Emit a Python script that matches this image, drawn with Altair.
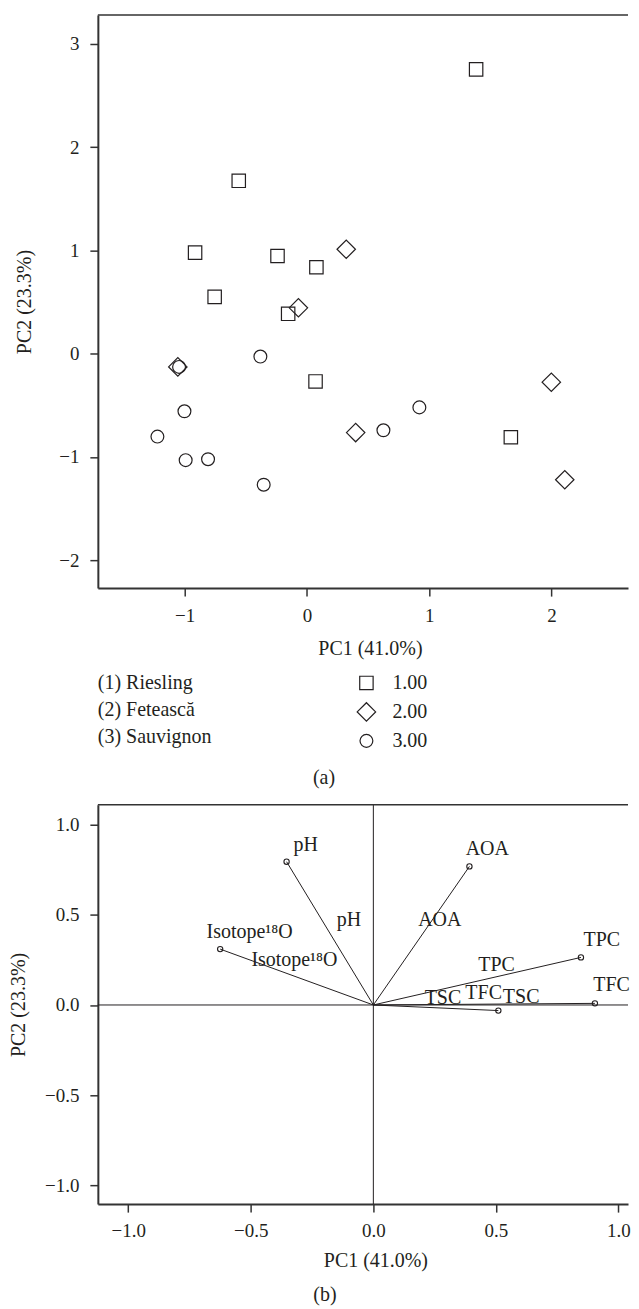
import altair as alt
import pandas as pd

FONT = "Liberation Serif"
INK = "#231f20"
AXC = "#333333"
FS = 20

# ---------- Panel (a): PCA scores ----------
sq_x = [1.383, -0.558, -0.915, -0.241, 0.077, -0.755, -0.154, 0.070, 1.667]
sq_y = [2.752, 1.673, 0.977, 0.945, 0.836, 0.549, 0.385, -0.270, -0.810]
di_x = [0.321, -0.070, -1.056, 0.398, 1.998, 2.108]
di_y = [1.010, 0.443, -0.129, -0.765, -0.277, -1.222]
ci_x = [-1.046, -0.381, -1.002, -1.223, -0.992, -0.809, -0.354, 0.919, 0.625]
ci_y = [-0.129, -0.029, -0.559, -0.804, -1.032, -1.023, -1.270, -0.521, -0.743]
group_codes = ["1.00", "2.00", "3.00"]
group_names = ["(1) Riesling", "(2) Fetească", "(3) Sauvignon"]
a_xticks = [-1, 0, 1, 2]
a_yticks = [-2, -1, 0, 1, 2, 3]

# ---------- Panel (b): loadings ----------
var_names = ["pH", "AOA", "Isotope¹⁸O", "TPC", "TFC", "TSC"]
load_x = [-0.354, 0.392, -0.625, 0.847, 0.904, 0.510]
load_y = [0.795, 0.769, 0.310, 0.264, 0.009, -0.031]
end_lab_x = [-0.276, 0.465, -0.505, 0.932, 0.972, 0.603]
end_lab_y = [0.852, 0.834, 0.373, 0.327, 0.077, 0.013]
mid_lab_x = [-0.100, 0.271, -0.322, 0.503, 0.450, 0.284]
mid_lab_y = [0.437, 0.437, 0.216, 0.188, 0.035, 0.004]
b_ticks = [-1.0, -0.5, 0.0, 0.5, 1.0]

W = 531
HA = 574
HB = 400

scores = pd.DataFrame({
    "PC1": sq_x + di_x + ci_x,
    "PC2": sq_y + di_y + ci_y,
    "grp": [group_codes[0]] * len(sq_x) + [group_codes[1]] * len(di_x) + [group_codes[2]] * len(ci_x),
})

xa_scale = alt.Scale(domain=[-1.71, 2.625], nice=False, zero=False)
ya_scale = alt.Scale(domain=[-2.271, 3.278], nice=False, zero=False)
xa_axis = alt.Axis(values=a_xticks, title="PC1 (41.0%)", titleX=272.5, titleY=60,
                   titleBaseline="middle", labelPadding=10, format="d")
ya_axis = alt.Axis(values=a_yticks, title="PC2 (23.3%)", titleX=-73, titleY=HA / 2,
                   titleBaseline="middle", titleAlign="center", format="d")

leg = alt.Legend(orient="none", legendX=259, legendY=659, title=None,
                 labelFont=FONT, labelFontSize=FS, labelColor=INK, labelOffset=16,
                 rowPadding=7, padding=0, symbolStrokeColor=INK, symbolStrokeWidth=1.2)

pts = alt.Chart(scores).mark_point(filled=False, strokeWidth=1.2, color=INK, opacity=1).encode(
    x=alt.X("PC1:Q", scale=xa_scale, axis=xa_axis),
    y=alt.Y("PC2:Q", scale=ya_scale, axis=ya_axis),
    shape=alt.Shape("grp:O", scale=alt.Scale(type="ordinal", domain=group_codes,
                                             range=["square", "diamond", "circle"]), legend=leg),
    size=alt.Size("grp:O", scale=alt.Scale(type="ordinal", domain=group_codes,
                                           range=[180, 340, 165]), legend=leg),
)

top_a = alt.Chart(pd.DataFrame({"v": [0]})).mark_rule(color=AXC, strokeWidth=1.5).encode(y=alt.value(0))

name_layers = []
for i, n in enumerate(group_names):
    name_layers.append(
        alt.Chart(pd.DataFrame({"t": [n]})).mark_text(
            align="left", baseline="middle", font=FONT, fontSize=FS, color=INK
        ).encode(x=alt.value(0), y=alt.value(669 + 27 * i), text="t:N")
    )

lab_a = alt.Chart(pd.DataFrame({"t": ["(a)"]})).mark_text(
    align="center", baseline="middle", font=FONT, fontSize=FS, color=INK
).encode(x=alt.value(226.5), y=alt.value(764), text="t:N")

panel_a = alt.layer(pts, top_a, *name_layers, lab_a).properties(width=W, height=HA)

# ---------- Panel (b) ----------
load = pd.DataFrame({
    "var": var_names, "x": load_x, "y": load_y,
    "ex": end_lab_x, "ey": end_lab_y, "mx": mid_lab_x, "my": mid_lab_y,
})

xb_scale = alt.Scale(domain=[-1.124, 1.039], nice=False, zero=False)
yb_scale = alt.Scale(domain=[-1.105, 1.111], nice=False, zero=False)
xb_axis = alt.Axis(values=b_ticks, title="PC1 (41.0%)", titleX=278, titleY=56.7,
                   titleBaseline="middle", labelPadding=9, format=".1f")
yb_axis = alt.Axis(values=b_ticks, title="PC2 (23.3%)", titleX=-79, titleY=HB / 2,
                   titleBaseline="middle", titleAlign="center", format=".1f")


def bx(f):
    return alt.X(f, scale=xb_scale, axis=xb_axis)


def by(f):
    return alt.Y(f, scale=yb_scale, axis=yb_axis)


zero_df = pd.DataFrame({"z": [0.0]})
hline = alt.Chart(zero_df).mark_rule(color=INK, strokeWidth=1).encode(y=by("z:Q"))
vline = alt.Chart(zero_df).mark_rule(color=INK, strokeWidth=1).encode(x=bx("z:Q"))

vec = alt.Chart(load).transform_calculate(ox="0", oy="0").mark_rule(color=INK, strokeWidth=1).encode(
    x=bx("ox:Q"), y=by("oy:Q"), x2="x:Q", y2="y:Q"
)
ends = alt.Chart(load).mark_point(shape="circle", size=28, filled=False, strokeWidth=1.1,
                                  color=INK, opacity=1).encode(x=bx("x:Q"), y=by("y:Q"))
end_txt = alt.Chart(load).mark_text(align="center", baseline="alphabetic", font=FONT,
                                    fontSize=FS, color=INK).encode(x=bx("ex:Q"), y=by("ey:Q"), text="var:N")
mid_txt = alt.Chart(load).mark_text(align="center", baseline="alphabetic", font=FONT,
                                    fontSize=FS, color=INK).encode(x=bx("mx:Q"), y=by("my:Q"), text="var:N")

top_b = alt.Chart(pd.DataFrame({"v": [0]})).mark_rule(color=AXC, strokeWidth=1.5).encode(y=alt.value(0))
lab_b = alt.Chart(pd.DataFrame({"t": ["(b)"]})).mark_text(
    align="center", baseline="middle", font=FONT, fontSize=FS, color=INK
).encode(x=alt.value(227.5), y=alt.value(491), text="t:N")

panel_b = alt.layer(hline, vline, vec, ends, end_txt, mid_txt, top_b, lab_b).properties(width=W, height=HB)

chart = alt.vconcat(panel_a, panel_b, spacing=217, bounds="flush").properties(
    padding={"left": 1, "top": 5, "right": 0, "bottom": 0}
).configure_axis(
    grid=False, labelFont=FONT, labelFontSize=19, labelColor=INK,
    domainColor=AXC, domainWidth=2, tickColor=AXC, tickWidth=1.5, tickSize=8,
    labelPadding=11, titleFont=FONT, titleFontSize=FS, titleColor=INK, titleFontWeight="normal",
).configure_view(strokeWidth=0)

chart.save("out.html", embed_options={"renderer": "svg", "actions": False})
